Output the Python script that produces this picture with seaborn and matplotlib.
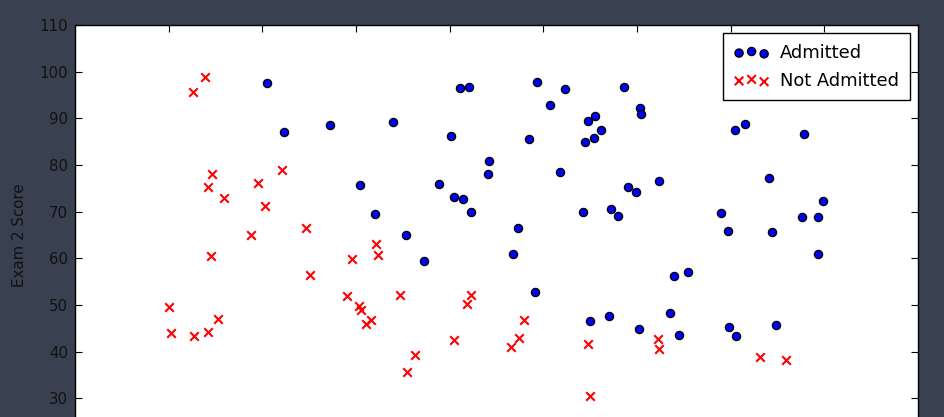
import pandas as pd
import matplotlib
matplotlib.use("Agg")
import matplotlib.pyplot as plt
import seaborn as sns

# exam scores and admission outcome (1 = admitted)
exam1 = [34.62, 30.29, 35.85, 60.18, 79.03, 45.08, 61.11, 75.02, 76.10, 84.43,
         95.86, 75.01, 82.31, 69.36, 39.54, 53.97, 69.07, 67.95, 70.66, 76.98,
         67.37, 89.68, 50.53, 34.21, 77.92, 62.27, 80.19, 93.11, 61.83, 38.79,
         61.38, 85.40, 52.11, 52.05, 40.24, 54.64, 33.92, 64.18, 74.79, 34.18,
         83.90, 51.55, 94.44, 82.37, 51.05, 62.22, 77.19, 97.77, 62.07, 91.56,
         79.94, 99.27, 90.55, 34.52, 50.29, 49.59, 97.65, 32.58, 74.25, 71.80,
         75.40, 35.29, 56.25, 30.06, 44.67, 66.56, 40.46, 49.07, 80.28, 66.75,
         32.72, 64.04, 72.35, 60.46, 58.84, 99.83, 47.26, 50.46, 60.46, 82.23,
         88.91, 94.83, 67.32, 57.24, 80.37, 68.47, 42.08, 75.48, 78.64, 52.35,
         94.09, 90.45, 55.48, 74.49, 89.85, 83.49, 42.26, 99.32, 55.34, 74.78]
exam2 = [78.02, 43.89, 72.90, 86.31, 75.34, 56.32, 96.51, 46.55, 87.42, 43.53,
         38.23, 30.60, 76.48, 97.72, 76.04, 89.21, 52.74, 46.68, 92.93, 47.58,
         42.84, 65.80, 48.86, 44.21, 68.97, 69.95, 44.82, 38.80, 50.26, 65.00,
         72.81, 57.05, 63.13, 69.43, 71.17, 52.21, 98.87, 80.91, 41.57, 75.24,
         56.31, 46.86, 65.57, 40.62, 45.82, 52.06, 70.46, 86.73, 96.77, 88.70,
         74.16, 61.00, 43.39, 60.40, 49.80, 59.81, 68.86, 95.60, 69.82, 78.45,
         85.76, 47.02, 39.26, 49.59, 66.45, 41.09, 97.54, 51.88, 92.12, 60.99,
         43.31, 78.03, 96.23, 73.09, 75.86, 72.37, 88.48, 75.81, 42.51, 42.72,
         69.80, 45.69, 66.59, 59.51, 90.96, 85.59, 78.84, 90.42, 96.65, 60.77,
         77.16, 87.51, 35.57, 84.85, 45.36, 48.38, 87.10, 68.78, 64.93, 89.53]
admitted = [0, 0, 0, 1, 1, 0, 1, 1, 1, 1,
            0, 0, 1, 1, 0, 1, 1, 0, 1, 1,
            0, 1, 0, 0, 1, 1, 1, 0, 0, 0,
            1, 1, 0, 1, 0, 0, 0, 1, 0, 0,
            1, 0, 1, 0, 0, 0, 1, 1, 1, 1,
            1, 1, 1, 0, 0, 0, 1, 0, 1, 1,
            1, 0, 0, 0, 0, 0, 1, 0, 1, 1,
            0, 1, 1, 1, 1, 1, 1, 1, 0, 0,
            1, 1, 1, 1, 1, 1, 0, 1, 1, 0,
            1, 1, 0, 1, 1, 1, 1, 1, 1, 1]

df = pd.DataFrame({"Exam 1": exam1, "Exam 2": exam2, "Admitted": admitted})
pos = df[df["Admitted"] == 1]
neg = df[df["Admitted"] == 0]

bg = "#394050"
fig = plt.figure(figsize=(9.45, 4.17), dpi=100, facecolor=bg)
# the picture is a crop: the lower part of the axes runs past the bottom edge
ax = fig.add_axes([0.0794, -0.0671, 0.8921, 1.0072])
ax.set_facecolor("white")

sns.scatterplot(data=pos, x="Exam 1", y="Exam 2", ax=ax, color="blue",
                edgecolor="black", linewidth=1, s=34, label="Admitted")
sns.scatterplot(data=neg, x="Exam 1", y="Exam 2", ax=ax, color="red",
                marker="x", linewidth=1.5, s=38, label="Not Admitted")

ax.set_xlim(20, 110)
ax.set_ylim(20, 110)
ax.set_xticks(range(30, 101, 10))
ax.set_yticks(range(30, 111, 10))
ax.set_xlabel("")
ax.set_ylabel("Exam 2 Score", fontsize=10.8, color="#111111", labelpad=9)
ax.tick_params(direction="in", top=True, right=True, length=5, width=0.8,
               labelsize=10.8, labelcolor="#111111", pad=5, labelbottom=False)
for sp in ax.spines.values():
    sp.set_color("black")
    sp.set_linewidth(1)

leg = ax.legend(loc="upper right", scatterpoints=3, fontsize=12.9,
                fancybox=False, framealpha=1, edgecolor="black",
                borderaxespad=0.45, borderpad=0.6, labelspacing=0.55,
                handletextpad=0.6)
leg.get_frame().set_linewidth(1)

plt.savefig("out.png", dpi=100, facecolor=bg)
